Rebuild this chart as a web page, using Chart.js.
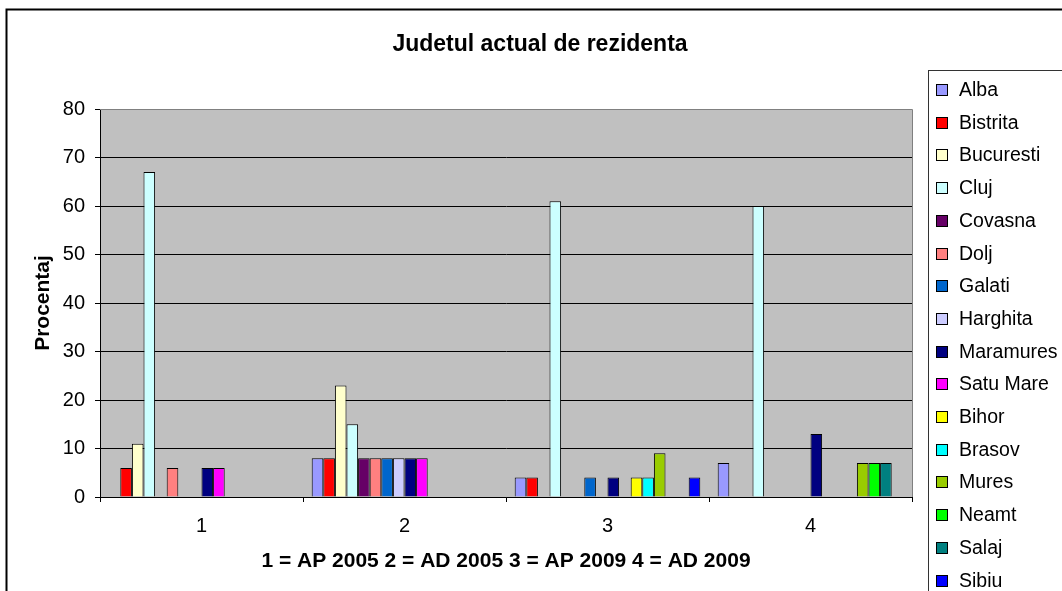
<!DOCTYPE html>
<html>
<head>
<meta charset="utf-8">
<title>Judetul actual de rezidenta</title>
<script src="https://cdn.jsdelivr.net/npm/chart.js@4.4.1/dist/chart.umd.min.js"></script>
<style>
  html, body { margin: 0; padding: 0; background: #fff; }
  canvas { display: block; }
</style>
</head>
<body>
<canvas id="chart" width="1062" height="591"></canvas>
<script>
  // Categories (x axis) and y ticks
  const categories = ["1", "2", "3", "4"];
  const yTicks = [0, 10, 20, 30, 40, 50, 60, 70, 80];

  // Series names and values (percent), null = no bar
  const seriesNames = [
    "Alba", "Bistrita", "Bucuresti", "Cluj", "Covasna", "Dolj", "Galati", "Harghita",
    "Maramures", "Satu Mare", "Bihor", "Brasov", "Mures", "Neamt", "Salaj", "Sibiu",
  ];
  const alba      = [null, 8, 4, 7];
  const bistrita  = [6, 8, 4, null];
  const bucuresti = [11, 23, null, null];
  const cluj      = [67, 15, 61, 60];
  const covasna   = [null, 8, null, null];
  const dolj      = [6, 8, null, null];
  const galati    = [null, 8, 4, null];
  const harghita  = [null, 8, null, null];
  const maramures = [6, 8, 4, 13];
  const satuMare  = [6, 8, null, null];
  const bihor     = [null, null, 4, null];
  const brasov    = [null, null, 4, null];
  const mures     = [null, null, 9, 7];
  const neamt     = [null, null, null, 7];
  const salaj     = [null, null, null, 7];
  const sibiu     = [null, null, 4, null];

  const seriesValues = [
    alba, bistrita, bucuresti, cluj, covasna, dolj, galati, harghita,
    maramures, satuMare, bihor, brasov, mures, neamt, salaj, sibiu,
  ];

  const seriesColors = [
    "#9999FF", "#FF0000", "#FFFFCC", "#CCFFFF", "#660066", "#FF8080", "#0066CC", "#CCCCFF",
    "#000080", "#FF00FF", "#FFFF00", "#00FFFF", "#99CC00", "#00FF00", "#008080", "#0000FF",
  ];

  const FONT = "'Liberation Sans', Arial, sans-serif";

  // Gray plot area, outer frame, title and legend box
  const chartFrame = {
    id: "chartFrame",
    beforeDraw: function (chart) {
      const ctx = chart.ctx;
      const a = chart.chartArea;
      ctx.save();
      ctx.fillStyle = "#C0C0C0";
      ctx.fillRect(a.left, a.top, a.right - a.left, a.bottom - a.top);
      ctx.restore();
    },
    beforeDatasetsDraw: function (chart) {
      const ctx = chart.ctx;
      const a = chart.chartArea;
      ctx.save();
      ctx.strokeStyle = "#808080";
      ctx.lineWidth = 1;
      ctx.beginPath();
      ctx.moveTo(a.left, a.top + 0.5);
      ctx.lineTo(a.right + 0.5, a.top + 0.5);
      ctx.lineTo(a.right + 0.5, a.bottom);
      ctx.stroke();
      ctx.restore();
    },
    afterDraw: function (chart) {
      const ctx = chart.ctx;
      ctx.save();

      // outer chart border (cropped on right and bottom)
      ctx.strokeStyle = "#000";
      ctx.lineWidth = 2;
      ctx.beginPath();
      ctx.moveTo(6.5, 700);
      ctx.lineTo(6.5, 9.5);
      ctx.lineTo(1100, 9.5);
      ctx.stroke();

      // title
      ctx.fillStyle = "#000";
      ctx.font = "bold 23px " + FONT;
      ctx.textAlign = "center";
      ctx.textBaseline = "alphabetic";
      ctx.fillText("Judetul actual de rezidenta", 540, 51);

      // legend
      ctx.strokeStyle = "#333";
      ctx.lineWidth = 1;
      ctx.strokeRect(928.5, 70.5, 200, 600);
      ctx.font = "19.5px " + FONT;
      ctx.textAlign = "left";
      ctx.textBaseline = "middle";
      chart.data.datasets.forEach(function (ds, i) {
        const cy = Math.round(90 + i * 32.7);
        ctx.fillStyle = ds.backgroundColor;
        ctx.fillRect(936.5, cy - 5.5, 11, 11);
        ctx.strokeStyle = "#000";
        ctx.strokeRect(936.5, cy - 5.5, 11, 11);
        ctx.fillStyle = "#000";
        ctx.fillText(ds.label, 959, cy + 1);
      });
      ctx.restore();
    },
  };

  const datasets = seriesNames.map(function (name, i) {
    return {
      label: name,
      data: seriesValues[i],
      backgroundColor: seriesColors[i],
      borderColor: "#000",
      borderWidth: 1,
      categoryPercentage: 16 / 17.5,
      barPercentage: 1,
    };
  });

  new Chart(document.getElementById("chart"), {
    type: "bar",
    data: { labels: categories, datasets: datasets },
    plugins: [chartFrame],
    options: {
      responsive: false,
      animation: false,
      devicePixelRatio: 1,
      layout: { padding: { left: 24, top: 109, right: 150, bottom: 14 } },
      plugins: {
        legend: { display: false },
        title: { display: false },
        tooltip: { enabled: false },
      },
      scales: {
        x: {
          offset: true,
          grid: {
            offset: true,
            drawOnChartArea: false,
            drawTicks: true,
            tickLength: 5,
            color: "#000",
          },
          border: { color: "#000" },
          ticks: { color: "#000", font: { family: FONT, size: 20 }, padding: 12 },
          title: {
            display: true,
            text: "1 = AP 2005 2 = AD 2005 3 = AP 2009 4 = AD 2009",
            color: "#000",
            font: { family: FONT, size: 21, weight: "bold" },
            padding: { top: 0, bottom: 3 },
          },
          afterFit: function (scale) {
            scale.height = 80;
          },
        },
        y: {
          min: 0,
          max: 80,
          afterBuildTicks: function (scale) {
            scale.ticks = yTicks.map(function (v) { return { value: v }; });
          },
          grid: {
            color: function (c) {
              return c.tick && c.tick.value === 80 ? "#808080" : "#000";
            },
            tickColor: "#000",
            tickLength: 5,
          },
          border: { color: "#000" },
          ticks: { color: "#000", font: { family: FONT, size: 20 }, padding: 10 },
          title: {
            display: true,
            text: "Procentaj",
            color: "#000",
            font: { family: FONT, size: 21, weight: "bold" },
            padding: { top: 7, bottom: 0 },
          },
          afterFit: function (scale) {
            scale.width = 76;
          },
        },
      },
    },
  });
</script>
</body>
</html>
